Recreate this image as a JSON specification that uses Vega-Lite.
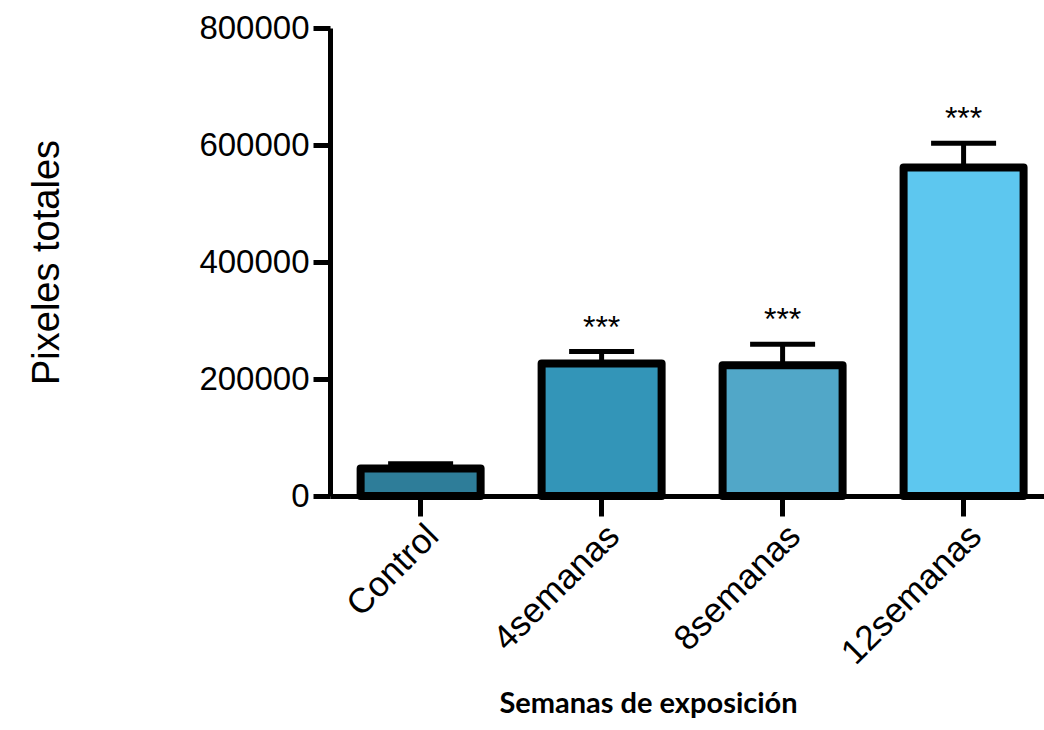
{
  "$schema": "https://vega.github.io/schema/vega-lite/v6.json",
  "autosize": "none",
  "width": 714,
  "height": 468,
  "padding": {"left": 330, "top": 28, "right": 0, "bottom": 234},
  "background": "white",
  "config": {
    "view": {"stroke": null},
    "font": "Liberation Sans",
    "axis": {
      "domainColor": "black", "domainWidth": 5, "tickColor": "black", "tickWidth": 5,
      "labelColor": "black", "titleColor": "black", "grid": false,
      "labelFont": "Liberation Sans", "titleFont": "Liberation Sans", "labelLimit": 0
    },
    "axisY": {"labelFontSize": 33, "tickSize": 17, "labelPadding": 4, "titleFontSize": 38, "titleFontWeight": "normal", "titlePadding": 132},
    "axisX": {"labelFontSize": 35, "tickSize": 20, "labelPadding": 2, "labelAngle": -45}
  },
  "data": {"values": [
    {"grupo": "Control", "media": 47000, "sup": 55000, "sig": ""},
    {"grupo": "4semanas", "media": 226500, "sup": 247000, "sig": "***"},
    {"grupo": "8semanas", "media": 223600, "sup": 259300, "sig": "***"},
    {"grupo": "12semanas", "media": 561500, "sup": 603000, "sig": "***"}
  ]},
  "encoding": {
    "x": {
      "field": "grupo", "type": "nominal",
      "sort": ["Control", "4semanas", "8semanas", "12semanas"],
      "scale": {"paddingInner": 0.337, "paddingOuter": 0.141, "align": 0.6},
      "axis": {
        "title": "Semanas de exposición",
        "titleFont": "Lato", "titleFontWeight": "bold", "titleFontSize": 29,
        "titleX": 318, "titleY": 216, "titleBaseline": "alphabetic"
      }
    }
  },
  "layer": [
    {
      "mark": {"type": "rule", "color": "black", "strokeWidth": 5},
      "encoding": {
        "y": {"field": "media", "type": "quantitative", "scale": {"domain": [0, 800000], "nice": false}, "axis": {"format": "d", "tickCount": 4, "title": "Pixeles totales"}},
        "y2": {"field": "sup"}
      }
    },
    {
      "mark": {"type": "tick", "color": "black", "size": 65, "thickness": 5, "opacity": 1},
      "encoding": {
        "y": {"field": "sup", "type": "quantitative", "scale": {"domain": [0, 800000], "nice": false}, "axis": {"format": "d", "tickCount": 4, "title": "Pixeles totales"}}
      }
    },
    {
      "mark": {"type": "bar", "stroke": "black", "strokeWidth": 8, "strokeJoin": "round", "fillOpacity": 1},
      "encoding": {
        "y": {"field": "media", "type": "quantitative", "scale": {"domain": [0, 800000], "nice": false}, "axis": {"format": "d", "tickCount": 4, "title": "Pixeles totales"}},
        "fill": {
          "field": "grupo", "type": "nominal", "legend": null,
          "scale": {"domain": ["Control", "4semanas", "8semanas", "12semanas"], "range": ["#2e7d99", "#3395b8", "#51a7c8", "#5dc7ef"]}
        }
      }
    },
    {
      "mark": {"type": "text", "fontSize": 32, "baseline": "alphabetic", "dy": -14, "color": "black", "font": "Liberation Sans"},
      "encoding": {
        "y": {"field": "sup", "type": "quantitative", "scale": {"domain": [0, 800000], "nice": false}, "axis": {"format": "d", "tickCount": 4, "title": "Pixeles totales"}},
        "text": {"field": "sig"}
      }
    }
  ]
}
